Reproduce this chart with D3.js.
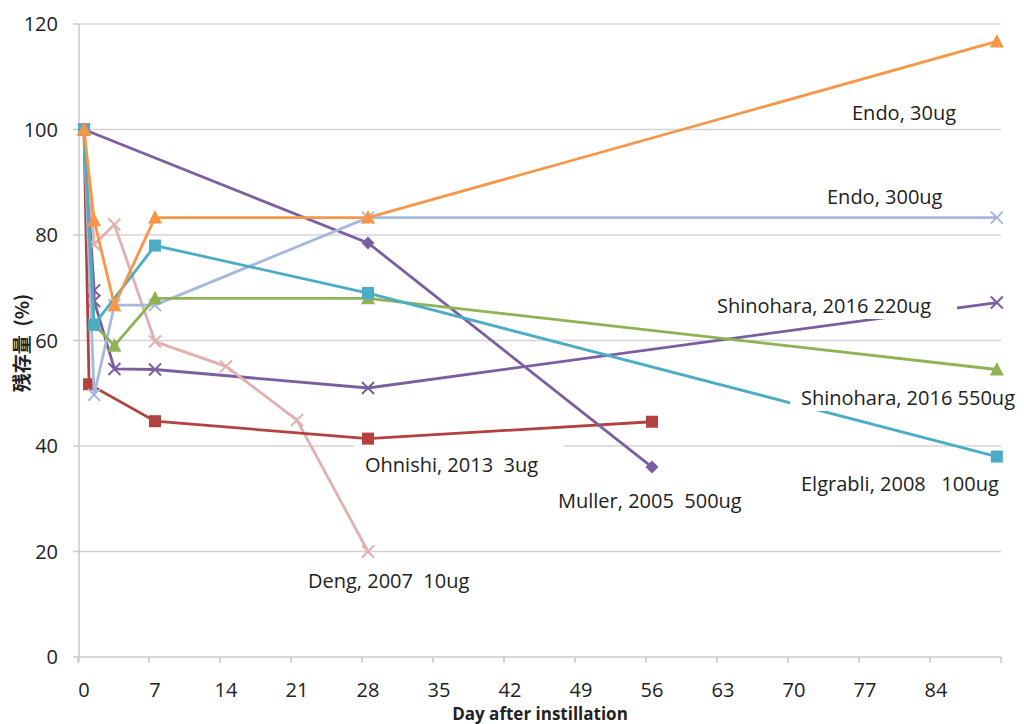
<!DOCTYPE html>
<html><head><meta charset="utf-8">
<script src="https://cdn.jsdelivr.net/npm/d3@7"></script>
<style>body{margin:0;background:#fff}svg{display:block}</style>
</head><body>
<svg id="c" width="1024" height="724"></svg>
<script>
// ---- data ----
const xTicks = [0,7,14,21,28,35,42,49,56,63,70,77,84];
const yTicks = [0,20,40,60,80,100,120];

const endo30Days = [0,1,3,7,28,90];
const endo30Vals = [100,82.8,66.7,83.3,83.3,116.7];
const endo300Days = [0,1,3,7,28,90];
const endo300Vals = [100,49.7,66.7,66.7,83.3,83.3];
const shino550Days = [0,1,3,7,28,90];
const shino550Vals = [100,63,59,68,68,54.5];
const elgrabliDays = [0,1,7,28,90];
const elgrabliVals = [100,63,78,69,38];
const shino220Days = [0,1,1,3,7,28,90];
const shino220Vals = [100,69.5,67.5,54.6,54.5,51,67.2];
const ohnishiDays = [0,0.5,7,28,56];
const ohnishiVals = [100,51.7,44.7,41.4,44.6];
const mullerDays = [0,28,56];
const mullerVals = [100,78.5,36];
const dengDays = [0,1,3,7,14,21,28];
const dengVals = [100,78.2,82,59.8,55.1,44.9,20];

const seriesNames = ["Shinohara, 2016 220ug","Deng, 2007  10ug","Ohnishi, 2013  3ug","Muller, 2005  500ug",
  "Endo, 300ug","Shinohara, 2016 550ug","Elgrabli, 2008   100ug","Endo, 30ug"];

// ---- build ----
const series = [
  {name:seriesNames[0], d:shino220Days, v:shino220Vals, color:"#7B5EA0", marker:"x"},
  {name:seriesNames[1], d:dengDays, v:dengVals, color:"#E3AFB0", marker:"x"},
  {name:seriesNames[2], d:ohnishiDays, v:ohnishiVals, color:"#B2413F", marker:"square"},
  {name:seriesNames[3], d:mullerDays, v:mullerVals, color:"#7B5EA0", marker:"diamond"},
  {name:seriesNames[4], d:endo300Days, v:endo300Vals, color:"#A7B8DE", marker:"x"},
  {name:seriesNames[5], d:shino550Days, v:shino550Vals, color:"#8FB254", marker:"triangle"},
  {name:seriesNames[6], d:elgrabliDays, v:elgrabliVals, color:"#4BACC6", marker:"square"},
  {name:seriesNames[7], d:endo30Days, v:endo30Vals, color:"#F79646", marker:"triangle"}
];

const svg = d3.select("#c");
const x = d3.scaleLinear().domain([0,91]).range([84,1007]);
const y = d3.scaleLinear().domain([0,120]).range([657,24]);
const FONT = "'Open Sans', 'Noto Sans', sans-serif";

// gridlines
svg.append("g").selectAll("line").data(yTicks.filter(t=>t>0)).join("line")
  .attr("x1",79).attr("x2",1001).attr("y1",d=>y(d)).attr("y2",d=>y(d))
  .attr("stroke","#d4d4d4").attr("stroke-width",1.5);

// axes lines
svg.append("line").attr("x1",79).attr("x2",79).attr("y1",y(120)).attr("y2",y(0)+5)
  .attr("stroke","#c8c8c8").attr("stroke-width",1.5);
svg.append("line").attr("x1",79).attr("x2",1001).attr("y1",y(0)).attr("y2",y(0))
  .attr("stroke","#c8c8c8").attr("stroke-width",1.5);
// y tick marks
svg.append("g").selectAll("line").data(yTicks).join("line")
  .attr("x1",73).attr("x2",79).attr("y1",d=>y(d)).attr("y2",d=>y(d))
  .attr("stroke","#c8c8c8").attr("stroke-width",1.5);
// x tick marks
svg.append("g").selectAll("line").data(xTicks.concat([91])).join("line")
  .attr("x1",d=>x(d)-6).attr("x2",d=>x(d)-6).attr("y1",y(0)).attr("y2",y(0)+6)
  .attr("stroke","#c8c8c8").attr("stroke-width",1.5);

// tick labels
svg.append("g").selectAll("text").data(yTicks).join("text")
  .attr("x",58).attr("y",d=>y(d)).attr("dy","0.35em").attr("text-anchor","end")
  .attr("font-family",FONT).attr("font-size",20).attr("fill","#222").text(d=>d);
svg.append("g").selectAll("text").data(xTicks).join("text")
  .attr("x",d=>x(d)).attr("y",697).attr("text-anchor","middle")
  .attr("font-family",FONT).attr("font-size",20).attr("fill","#222").text(d=>d);

// axis titles
svg.append("text").attr("x",540).attr("y",720).attr("text-anchor","middle")
  .attr("font-family",FONT).attr("font-weight","bold").attr("font-size",17).attr("fill","#222")
  .text("Day after instillation");
svg.append("text").attr("transform","translate(29,343) rotate(-90)").attr("text-anchor","middle")
  .attr("font-family","'Noto Sans CJK JP', 'Noto Sans', sans-serif").attr("font-weight","bold")
  .attr("font-size",19).attr("fill","#222").attr("xml:space","preserve").style("white-space","pre")
  .text("残存量  (%)");

// series
const line = d3.line().x(p=>x(p[0])).y(p=>y(p[1]));
series.forEach(s=>{
  const pts = s.d.map((dd,i)=>[dd,s.v[i]]);
  const g = svg.append("g");
  g.append("path").attr("d",line(pts)).attr("fill","none").attr("stroke",s.color).attr("stroke-width",2.8);
  pts.forEach(p=>{
    const cx=x(p[0]), cy=y(p[1]);
    if(s.marker==="square"){
      g.append("rect").attr("x",cx-6).attr("y",cy-6).attr("width",12).attr("height",12).attr("fill",s.color);
    } else if(s.marker==="triangle"){
      g.append("path").attr("d",`M${cx},${cy-7.5}L${cx+7},${cy+6}L${cx-7},${cy+6}Z`).attr("fill",s.color);
    } else if(s.marker==="diamond"){
      g.append("path").attr("d",`M${cx},${cy-6.5}L${cx+6.5},${cy}L${cx},${cy+6.5}L${cx-6.5},${cy}Z`).attr("fill",s.color);
    } else {
      g.append("path").attr("d",`M${cx-6},${cy-6}L${cx+6},${cy+6}M${cx-6},${cy+6}L${cx+6},${cy-6}`)
        .attr("stroke",s.color).attr("stroke-width",2).attr("fill","none");
    }
  });
});

// labels (text boxes)
const labels = [
  {t:"Endo, 30ug", x:852, y:120},
  {t:"Endo, 300ug", x:827, y:204},
  {t:"Shinohara, 2016 220ug", x:717, y:313},
  {t:"Shinohara, 2016 550ug", x:801, y:405},
  {t:"Elgrabli, 2008   100ug", x:801, y:491},
  {t:"Ohnishi, 2013  3ug", x:365, y:472},
  {t:"Muller, 2005  500ug", x:558, y:508},
  {t:"Deng, 2007  10ug", x:308, y:588}
];
labels.forEach(l=>{
  const g = svg.append("g");
  const r = g.append("rect").attr("fill","#fff");
  const t = g.append("text").attr("x",l.x).attr("y",l.y).attr("font-family",FONT).attr("font-size",20)
    .attr("fill","#222").attr("xml:space","preserve").style("white-space","pre").text(l.t);
  const w = t.node().getComputedTextLength();
  r.attr("x",l.x-11).attr("y",l.y-27).attr("width",w+37).attr("height",33);
});
</script>
</body></html>
